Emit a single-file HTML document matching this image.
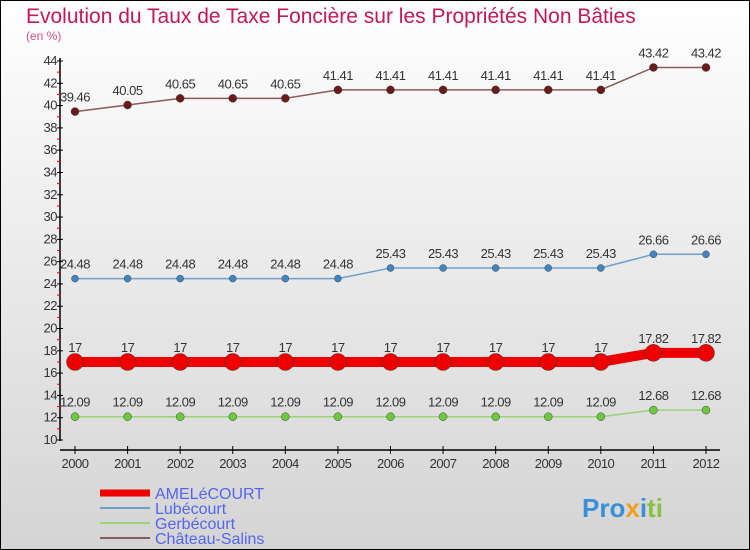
<!DOCTYPE html>
<html><head><meta charset="utf-8"><style>
body{margin:0}
svg{display:block}
text{font-family:"Liberation Sans",sans-serif}
</style></head><body>
<svg id="chart" width="750" height="550" viewBox="0 0 750 550">
<defs><linearGradient id="bg" x1="0" y1="0" x2="0" y2="1"><stop offset="0" stop-color="#ffffff"/><stop offset="1" stop-color="#d4d4d4"/></linearGradient></defs>
<rect x="0.5" y="0.5" width="749" height="549" fill="url(#bg)" stroke="#000"/>
<text x="26" y="23" font-size="21" fill="#c2185b">Evolution du Taux de Taxe Foncière sur les Propriétés Non Bâties</text>
<text x="26" y="40" font-size="12" fill="#d0508a">(en %)</text>
<g id="axes"></g><g id="series"></g>
<g>
<line x1="100" y1="493" x2="150" y2="493" stroke="#ee0000" stroke-width="7"/>
<text x="155" y="499" font-size="16" fill="#5566ee">AMELéCOURT</text>
<line x1="100" y1="508" x2="150" y2="508" stroke="#6fa0cc" stroke-width="2"/>
<text x="155" y="514" font-size="16" fill="#5566ee">Lubécourt</text>
<line x1="100" y1="523" x2="150" y2="523" stroke="#99d37a" stroke-width="2"/>
<text x="155" y="529" font-size="16" fill="#5566ee">Gerbécourt</text>
<line x1="100" y1="538" x2="150" y2="538" stroke="#8b5a5a" stroke-width="2"/>
<text x="155" y="544" font-size="16" fill="#5566ee">Château-Salins</text>
</g>
<text x="582" y="517" font-size="26" font-weight="bold"><tspan fill="#3a8fd8">Pro</tspan><tspan fill="#f0a020">x</tspan><tspan fill="#3a8fd8">i</tspan><tspan fill="#88c040">ti</tspan></text>
</svg>
<script>
const years=[2000,2001,2002,2003,2004,2005,2006,2007,2008,2009,2010,2011,2012];
const yTicks=[10,12,14,16,18,20,22,24,26,28,30,32,34,36,38,40,42,44];
const chateau=[39.46,40.05,40.65,40.65,40.65,41.41,41.41,41.41,41.41,41.41,41.41,43.42,43.42];
const lubecourt=[24.48,24.48,24.48,24.48,24.48,24.48,25.43,25.43,25.43,25.43,25.43,26.66,26.66];
const amelecourt=[17,17,17,17,17,17,17,17,17,17,17,17.82,17.82];
const gerbecourt=[12.09,12.09,12.09,12.09,12.09,12.09,12.09,12.09,12.09,12.09,12.09,12.68,12.68];
const NS='http://www.w3.org/2000/svg';
const x=i=>75+i*(706-75)/(years.length-1);
const y=v=>440-(v-10)*(379/34);
function mk(tag,attrs,parent){const e=document.createElementNS(NS,tag);for(const k in attrs)e.setAttribute(k,attrs[k]);parent.appendChild(e);return e;}
const ax=document.getElementById('axes');
let a=mk('line',{x1:60,y1:58,x2:60,y2:441,stroke:'#000','stroke-width':1.5},ax);

a=mk('line',{x1:60,y1:450,x2:720,y2:450,stroke:'#000','stroke-width':1.5},ax);

yTicks.forEach((t,i)=>{
 const yy=y(t);
 let l=mk('line',{x1:57,y1:yy,x2:63,y2:yy,stroke:'#000'},ax);
 
 if(i<yTicks.length-1){let m=mk('line',{x1:57,y1:y(t+1),x2:61,y2:y(t+1),stroke:'#e00'},ax);
 }
 let tx=mk('text',{x:57,y:yy+4,'font-size':13,fill:'#333','text-anchor':'end','letter-spacing':'-0.5'},ax);tx.textContent=t;
 
});
years.forEach((yr,i)=>{
 let l=mk('line',{x1:x(i),y1:446,x2:x(i),y2:454,stroke:'#000'},ax);
 
 let tx=mk('text',{x:x(i),y:468,'font-size':13,fill:'#333','text-anchor':'middle','letter-spacing':'-0.5'},ax);tx.textContent=yr;
 
});
const sg=document.getElementById('series');
function series(name,vals,color,w,r,fill){
 const g=mk('g',{},sg);
 
 let p=mk('polyline',{points:vals.map((v,i)=>x(i)+','+y(v)).join(' '),fill:'none',stroke:color,'stroke-width':w},g);
 
 vals.forEach((v,i)=>{
  let c=mk('circle',{cx:x(i),cy:y(v),r:r,fill:fill,stroke:'#444','stroke-width':0.5},g);
  
  let t=mk('text',{x:x(i),y:y(v)-10,'font-size':13,fill:'#333','text-anchor':'middle','letter-spacing':'-0.5'},g);
  t.textContent=String(v);
  
 });
}
series('chateau-salins',chateau,'#8b5a5a',1.5,4,'#6b1a1a');
series('lubecourt',lubecourt,'#6fa0cc',1.5,3.5,'#3f85c4');
series('amelecourt',amelecourt,'#ee0000',10,8.5,'#ee0000');
series('gerbecourt',gerbecourt,'#99d37a',1.5,4,'#6cc93a');
</script>
</body></html>
